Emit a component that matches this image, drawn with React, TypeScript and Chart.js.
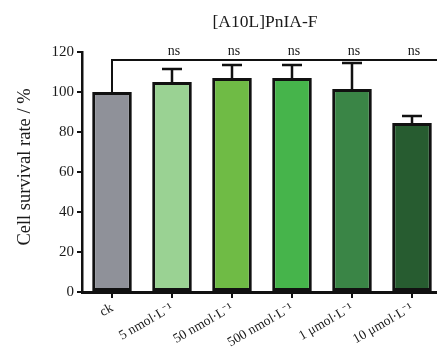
import React, { useEffect, useRef } from "react";
import { Chart, registerables } from "chart.js";

Chart.register(...registerables);

const categories = ["ck", "5 nmol·L⁻¹", "50 nmol·L⁻¹", "500 nmol·L⁻¹", "1 μmol·L⁻¹", "10 μmol·L⁻¹"];
const meanValues = [100, 105, 107, 107, 101.5, 84.5];
const errorValues = [0, 6.5, 6.5, 6.5, 13, 3.5];
const barColors = ["#8f9199", "#9ad293", "#6fbb45", "#46b44b", "#3a8546", "#275c30"];
const sigLabels = ["", "ns", "ns", "ns", "ns", "ns"];
const bracketLevel = 116;
const chartTitle = "[A10L]PnIA-F";
const yAxisTitle = "Cell survival rate / %";
const yTicks = [0, 20, 40, 60, 80, 100, 120];

const FONT = "'Liberation Serif', 'Times New Roman', serif";

const overlayPlugin = {
  id: "overlay",
  afterDatasetsDraw(chart: any) {
    const ctx = chart.ctx;
    const x = chart.scales.x;
    const y = chart.scales.y;
    ctx.save();
    // error bars
    ctx.strokeStyle = "#111";
    ctx.lineWidth = 2.5;
    meanValues.forEach((v, i) => {
      const e = errorValues[i];
      if (!e) return;
      const cx = x.getPixelForValue(i);
      const top = y.getPixelForValue(v + e);
      const base = y.getPixelForValue(v);
      ctx.beginPath();
      ctx.moveTo(cx, base);
      ctx.lineTo(cx, top);
      ctx.moveTo(cx - 10, top);
      ctx.lineTo(cx + 10, top);
      ctx.stroke();
    });
    // bracket
    const x0 = x.getPixelForValue(0);
    const yb = y.getPixelForValue(bracketLevel);
    ctx.lineWidth = 2;
    ctx.beginPath();
    ctx.moveTo(x0, y.getPixelForValue(meanValues[0]));
    ctx.lineTo(x0, yb);
    ctx.lineTo(chart.width, yb);
    ctx.stroke();
    // ns labels
    ctx.fillStyle = "#1a1a1a";
    ctx.font = `14px ${FONT}`;
    ctx.textAlign = "center";
    ctx.textBaseline = "bottom";
    sigLabels.forEach((s, i) => {
      if (!s) return;
      ctx.fillText(s, x.getPixelForValue(i) + 2, yb - 2);
    });
    // title
    ctx.font = `17.5px ${FONT}`;
    ctx.textBaseline = "middle";
    ctx.fillText(chartTitle, 265, 22);
    // y title
    ctx.translate(25, 167);
    ctx.rotate(-Math.PI / 2);
    ctx.font = `18.5px ${FONT}`;
    ctx.fillText(yAxisTitle, 0, 0);
    ctx.restore();
  },
};

export default function App() {
  const ref = useRef<HTMLCanvasElement>(null);
  useEffect(() => {
    if (!ref.current) return;
    const chart = new Chart(ref.current, {
      type: "bar",
      data: {
        labels: categories,
        datasets: [
          {
            data: meanValues,
            backgroundColor: barColors,
            borderColor: "#111",
            borderWidth: 3,
            borderSkipped: false,
            barPercentage: 0.66,
            categoryPercentage: 1,
          },
        ],
      },
      options: {
        responsive: false,
        animation: false,
        devicePixelRatio: 1,
        layout: { padding: { left: 0, right: 18, top: 52, bottom: 0 } },
        plugins: {
          legend: { display: false },
          tooltip: { enabled: false },
          title: { display: false },
        },
        scales: {
          x: {
            afterFit: (s: any) => {
              s.height = 56;
            },
            grid: {
              offset: false,
              drawOnChartArea: false,
              drawTicks: true,
              tickLength: 6,
              color: "#111",
              lineWidth: 2,
            },
            border: { display: true, color: "#111", width: 3 },
            ticks: {
              color: "#1a1a1a",
              font: { family: FONT, size: 13.5 },
              minRotation: 30,
              maxRotation: 30,
              padding: 2,
              autoSkip: false,
            },
          },
          y: {
            min: 0,
            max: 120,
            afterFit: (s: any) => {
              s.width = 82;
            },
            afterBuildTicks: (s: any) => {
              s.ticks = yTicks.map((v) => ({ value: v }));
            },
            grid: {
              drawOnChartArea: false,
              drawTicks: true,
              tickLength: 5,
              color: "#111",
              lineWidth: 2,
            },
            border: { display: true, color: "#111", width: 2.5 },
            ticks: {
              color: "#1a1a1a",
              font: { family: FONT, size: 15 },
              padding: 3,
            },
          },
        },
      },
      plugins: [overlayPlugin],
    });
    return () => chart.destroy();
  }, []);
  return (
    <div
      style={{
        position: "absolute",
        left: 0,
        top: 0,
        width: 437,
        height: 348,
        overflow: "hidden",
        background: "#fff",
      }}
    >
      <canvas ref={ref} width={460} height={348} style={{ display: "block" }} />
    </div>
  );
}
